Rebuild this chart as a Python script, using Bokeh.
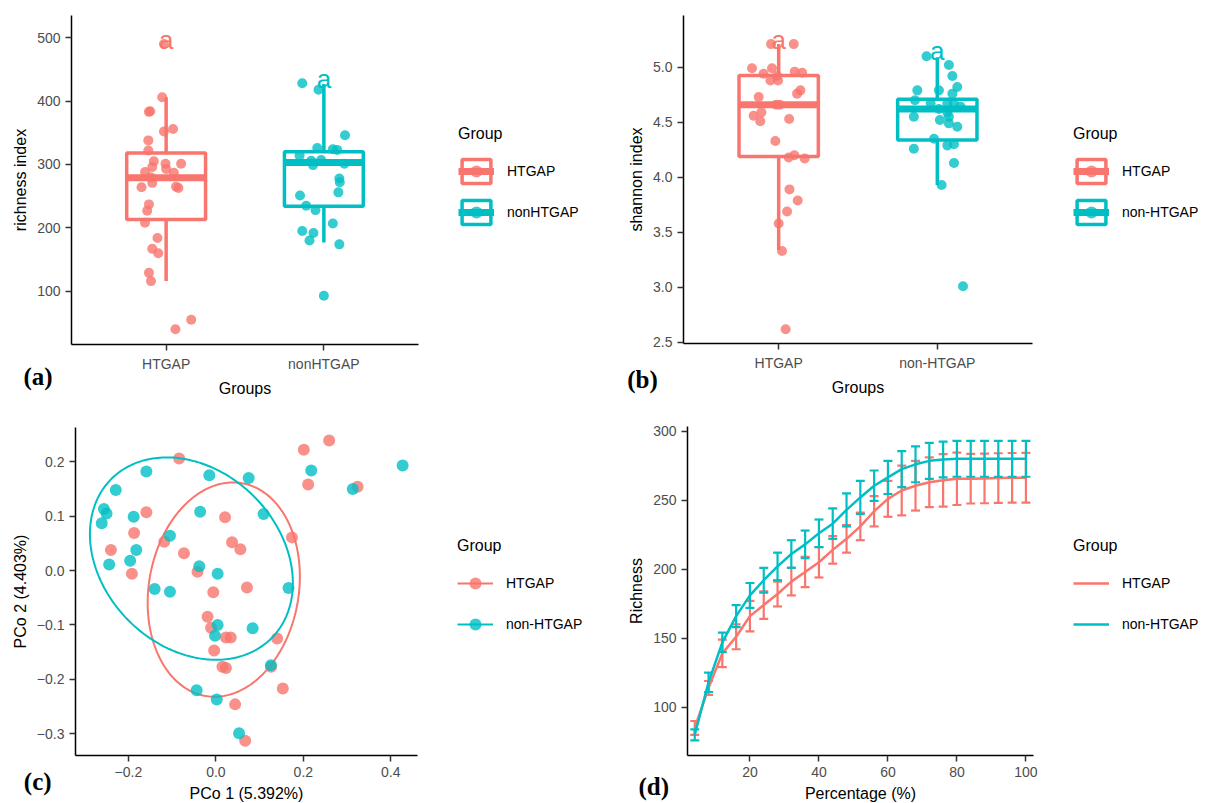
import numpy as np
from bokeh.plotting import figure
from bokeh.layouts import column, row
from bokeh.models import ColumnDataSource, FixedTicker, Legend, LegendItem, Label, Range1d
from bokeh.embed import file_html
from bokeh.resources import INLINE
from bokeh.core.properties import value

RED = "#F8766D"
TEAL = "#00BFC4"
FONT = "Liberation Sans"
SERIF = "Liberation Serif"

# ---------------- Panel (a): richness index ----------------
a_groups = ["HTGAP", "nonHTGAP"]
a_q1 = [213, 234]
a_median = [279, 303]
a_q3 = [318, 320]
a_whisker_lo = [116, 177]
a_whisker_hi = [406, 427]
a_letters = ["a", "a"]
a_letter_y = [497, 435]
a_ht_jitter = [-0.014, -0.025, -0.109, -0.101, -0.014, 0.044, -0.113, -0.113, -0.078, -0.004,
               0.095, -0.088, 0.0, -0.134, 0.049, -0.099, -0.088, -0.156, 0.063, 0.078,
               -0.109, -0.120, -0.134, -0.055, -0.088, -0.050, -0.109, -0.096, 0.059, 0.159]
a_ht_vals = [490, 406, 383, 384, 352, 356, 338, 322, 305, 301,
             301, 296, 293, 288, 287, 280, 271, 264, 265, 263,
             237, 227, 208, 184, 167, 160, 129, 116, 40, 55]
a_non_jitter = [-0.137, -0.034, 0.134, -0.042, 0.057, 0.084, -0.154, -0.080, -0.017, -0.069,
                0.130, 0.098, 0.101, 0.092, -0.151, -0.112, -0.053, 0.057, -0.137, -0.066,
                -0.091, 0.098, 0.0]
a_non_vals = [428, 418, 346, 326, 324, 323, 314, 306, 307, 299,
              301, 278, 272, 256, 251, 235, 228, 207, 195, 192,
              180, 174, 93]
a_yticks = [100, 200, 300, 400, 500]

# ---------------- Panel (b): shannon index ----------------
b_groups = ["HTGAP", "non-HTGAP"]
b_q1 = [4.19, 4.34]
b_median = [4.66, 4.62]
b_q3 = [4.925, 4.71]
b_whisker_lo = [3.34, 3.93]
b_whisker_hi = [5.21, 5.09]
b_letters = ["a", "a"]
b_letter_y = [5.25, 5.145]
b_ht_jitter = [-0.048, 0.095, -0.168, -0.042, -0.095, -0.010, 0.101, 0.148, -0.052, -0.004,
               0.116, 0.137, -0.126, -0.109, -0.158, -0.116, -0.016, 0.006, 0.066, -0.021,
               0.063, 0.099, 0.164, 0.068, 0.120, 0.053, 0.0, 0.021, 0.044]
b_ht_vals = [5.21, 5.21, 4.99, 4.99, 4.94, 4.92, 4.96, 4.95, 4.88, 4.88,
             4.76, 4.79, 4.73, 4.59, 4.56, 4.51, 4.66, 4.66, 4.53, 4.33,
             4.18, 4.20, 4.17, 3.89, 3.79, 3.69, 3.58, 3.33, 2.62]
b_non_jitter = [-0.068, 0.073, 0.095, 0.126, -0.126, 0.010, 0.095, -0.141, -0.042, 0.063,
                0.105, 0.147, 0.010, 0.063, -0.148, 0.073, 0.016, 0.073, 0.126, -0.021,
                0.063, 0.105, -0.148, 0.105, 0.027, 0.162]
b_non_vals = [5.10, 5.02, 4.92, 4.82, 4.79, 4.79, 4.76, 4.70, 4.67, 4.67,
              4.67, 4.64, 4.62, 4.59, 4.55, 4.55, 4.52, 4.49, 4.46, 4.35,
              4.29, 4.30, 4.26, 4.13, 3.93, 3.01]
b_yticks = [2.5, 3.0, 3.5, 4.0, 4.5, 5.0]
b_ytick_labels = ["2.5", "3.0", "3.5", "4.0", "4.5", "5.0"]

# ---------------- Panel (c): PCoA ----------------
c_ht_x = [-0.084, 0.201, 0.211, -0.159, 0.021, -0.187, -0.118, 0.037, 0.056, 0.174,
          -0.240, -0.073, -0.192, -0.042, 0.071, -0.006, -0.019, -0.011, 0.023, 0.034,
          0.140, -0.004, 0.015, 0.023, 0.126, 0.153, 0.044, 0.067, 0.259, 0.324]
c_ht_y = [0.206, 0.222, 0.158, 0.107, 0.098, 0.069, 0.053, 0.052, 0.039, 0.061,
          0.038, 0.032, -0.006, -0.002, -0.031, -0.040, -0.085, -0.105, -0.123, -0.123,
          -0.125, -0.147, -0.177, -0.179, -0.177, -0.217, -0.246, -0.313, 0.239, 0.154]
c_non_x = [-0.159, -0.015, 0.075, -0.229, 0.218, -0.256, -0.250, -0.261, -0.188, -0.036,
           0.109, -0.105, -0.182, -0.196, -0.244, -0.038, 0.004, -0.140, -0.105, 0.166,
           0.004, -0.002, 0.084, 0.126, -0.044, 0.002, 0.053, 0.427, 0.313]
c_non_y = [0.182, 0.175, 0.170, 0.148, 0.184, 0.113, 0.105, 0.087, 0.099, 0.108,
           0.104, 0.064, 0.038, 0.018, 0.011, 0.008, -0.006, -0.034, -0.039, -0.032,
           -0.100, -0.120, -0.106, -0.174, -0.220, -0.237, -0.299, 0.193, 0.150]
# 95% ellipses: centre, half-extents and phase (HTGAP, non-HTGAP)
c_ell_cx = [0.018, -0.056]
c_ell_cy = [-0.035, 0.022]
c_ell_rx = [0.174, 0.232]
c_ell_ry = [0.197, 0.186]
c_ell_phase = [83.0, 104.0]
c_groups = ["HTGAP", "non-HTGAP"]
c_xticks = [-0.2, 0.0, 0.2, 0.4]
c_xtick_labels = ["\u22120.2", "0.0", "0.2", "0.4"]
c_yticks = [-0.3, -0.2, -0.1, 0.0, 0.1, 0.2]
c_ytick_labels = ["\u22120.3", "\u22120.2", "\u22120.1", "0.0", "0.1", "0.2"]

# ---------------- Panel (d): rarefaction ----------------
d_pct = [4, 8, 12, 16, 20, 24, 28, 32, 36, 40, 44, 48, 52, 56, 60, 64, 68, 72, 76, 80, 84, 88, 92, 96, 100]
d_ht_mean = [85, 114, 139, 151, 166, 174, 182, 191, 198, 205, 214, 222, 231, 242, 251, 257, 260.5, 263,
             264.4, 265.5, 265.6, 265.8, 266, 266.2, 266.3]
d_ht_err = [5, 5, 10, 9, 11, 10, 9, 10, 11, 11, 10, 10, 10, 11, 13, 18, 18, 18, 19, 19, 18, 18, 18, 18, 18]
d_non_mean = [80, 118, 147, 166, 181, 192, 202, 211, 218, 226, 233, 243, 252, 260.5, 266.5, 272.5, 276,
              278.5, 279.5, 280, 280, 280, 280, 280, 280]
d_non_err = [4, 7, 7, 8, 9, 9, 10, 10, 10, 10, 11, 12, 12, 11, 12, 13, 13, 13, 13, 13, 13, 13, 13, 13, 13]
d_groups = ["HTGAP", "non-HTGAP"]
d_xticks = [20, 40, 60, 80, 100]
d_yticks = [100, 150, 200, 250, 300]

COLORS = [RED, TEAL]
BOX_W = 0.5
CAP = 1.3
W, H = 604, 401


def make_fig(left, top, fw, fh, xr, yr):
    """Panel whose plotting area (axes box) sits at left/top with size fw x fh;
    the canvas around it is kept inside the frame so legends and tags are not clipped."""
    kx = fw / (xr[1] - xr[0])
    ky = fh / (yr[1] - yr[0])
    x0 = xr[0] - left / kx
    x1 = xr[1] + (W - left - fw) / kx
    y0 = yr[0] - (H - top - fh) / ky
    y1 = yr[1] + top / ky
    p = figure(width=W, height=H, x_range=Range1d(x0, x1), y_range=Range1d(y0, y1),
               min_border=0, output_backend="svg", toolbar_location=None, tools="")
    p.grid.visible = False
    p.outline_line_color = None
    p.background_fill_color = "white"
    p.border_fill_color = "white"
    p.xaxis.fixed_location = yr[0]
    p.xaxis.bounds = (xr[0], xr[1])
    p.yaxis.fixed_location = xr[0]
    p.yaxis.bounds = (yr[0], yr[1])
    for ax in (p.xaxis[0], p.yaxis[0]):
        ax.axis_line_color = "black"
        ax.axis_line_width = 1.5
        ax.major_tick_line_color = "#333333"
        ax.major_tick_line_width = 1.5
        ax.major_tick_out = 6
        ax.major_tick_in = 0
        ax.minor_tick_line_color = None
        ax.major_label_text_font = FONT
        ax.major_label_text_font_size = "14px"
        ax.major_label_text_color = "#4D4D4D"
        ax.major_label_standoff = 5
        ax.axis_label_text_font = FONT
        ax.axis_label_text_font_size = "16px"
        ax.axis_label_text_font_style = "normal"
        ax.axis_label_text_color = "black"
        ax.axis_label_standoff = 5
    return p


def set_ticks(p, xticks, xlabels, yticks, ylabels, xtitle, ytitle):
    p.xaxis.ticker = FixedTicker(ticks=xticks)
    p.yaxis.ticker = FixedTicker(ticks=yticks)
    p.xaxis.major_label_overrides = dict(zip(xticks, xlabels))
    p.yaxis.major_label_overrides = dict(zip(yticks, ylabels))
    p.xaxis.axis_label = xtitle
    p.yaxis.axis_label = ytitle


def add_legend(p, items, x, y):
    lg = Legend(items=items, title="Group", location=(x, y), orientation="vertical",
                glyph_width=36, glyph_height=30, label_height=30, spacing=11,
                label_standoff=13, title_standoff=13, padding=0, margin=0,
                border_line_color=None, background_fill_alpha=0,
                label_text_font=FONT, label_text_font_size="14px", label_text_color="black",
                title_text_font=FONT, title_text_font_size="16px",
                title_text_font_style="normal", title_text_color="black")
    p.add_layout(lg)


def add_tag(p, text, x, y):
    p.add_layout(Label(x=x, y=y, x_units="screen", y_units="screen", text=text,
                       text_font=SERIF, text_font_style="bold", text_font_size="25px",
                       text_baseline="alphabetic", text_align="left", text_color="black"))


def box_panel(p, groups, q1, med, q3, lo, hi, jitters, vals, letters, letter_y):
    items = []
    for i, g in enumerate(groups):
        pos = i + 1
        col = COLORS[i]
        src = ColumnDataSource(dict(x=[pos], q1=[q1[i]], med=[med[i]], q3=[q3[i]],
                                    lo=[lo[i]], hi=[hi[i]],
                                    x0=[pos - BOX_W / 2], x1=[pos + BOX_W / 2]))
        p.segment(x0="x", y0="q3", x1="x", y1="hi", source=src, line_color=col, line_width=3.5)
        p.segment(x0="x", y0="lo", x1="x", y1="q1", source=src, line_color=col, line_width=3.5)
        box = p.vbar(x="x", width=BOX_W, top="q3", bottom="q1", source=src,
                     fill_color="white", line_color=col, line_width=3.5)
        mr = p.segment(x0="x0", y0="med", x1="x1", y1="med", source=src, line_color=col, line_width=7)
        pts = p.scatter(x=[pos + j for j in jitters[i]], y=vals[i], size=10,
                        fill_color=col, fill_alpha=0.8, line_color=None)
        items.append(LegendItem(label=g, renderers=[box, mr, pts]))
    p.text(x=[1, 2], y=letter_y, text=letters, text_color=COLORS, text_font=value(FONT),
           text_font_size="26px", text_align="center", text_baseline="alphabetic")
    return items


# ---- (a)
pa = make_fig(71, 15, 347, 329, (0.4, 2.6), (16, 535))
set_ticks(pa, [1, 2], a_groups, a_yticks, [str(v) for v in a_yticks], "Groups", "richness index")
items_a = box_panel(pa, a_groups, a_q1, a_median, a_q3, a_whisker_lo, a_whisker_hi,
                    [a_ht_jitter, a_non_jitter], [a_ht_vals, a_non_vals], a_letters, a_letter_y)
add_legend(pa, items_a, 458, 174)
add_tag(pa, "(a)", 23, 25.5)

# ---- (b)
pb = make_fig(79, 15, 349, 328, (0.4, 2.6), (2.49, 5.47))
set_ticks(pb, [1, 2], b_groups, b_yticks, b_ytick_labels, "Groups", "shannon index")
items_b = box_panel(pb, b_groups, b_q1, b_median, b_q3, b_whisker_lo, b_whisker_hi,
                    [b_ht_jitter, b_non_jitter], [b_ht_vals, b_non_vals], b_letters, b_letter_y)
add_legend(pb, items_b, 469, 174)
add_tag(pb, "(b)", 22.7, 22.5)

# ---- (c)
pc = make_fig(75, 26, 342, 328, (-0.321, 0.461), (-0.34, 0.263))
set_ticks(pc, c_xticks, c_xtick_labels, c_yticks, c_ytick_labels, "PCo 1 (5.392%)", "PCo 2 (4.403%)")
t = np.linspace(0, 2 * np.pi, 241)
items_c = []
for i, (gx, gy) in enumerate([(c_ht_x, c_ht_y), (c_non_x, c_non_y)]):
    col = COLORS[i]
    ex = c_ell_cx[i] + c_ell_rx[i] * np.cos(t)
    ey = c_ell_cy[i] + c_ell_ry[i] * np.cos(t - np.radians(c_ell_phase[i]))
    lr = pc.line(ex, ey, line_color=col, line_width=2)
    sr = pc.scatter(gx, gy, size=12, fill_color=col, fill_alpha=0.8, line_color=None)
    items_c.append(LegendItem(label=c_groups[i], renderers=[lr, sr]))
add_legend(pc, items_c, 457, 163)
add_tag(pc, "(c)", 23.3, 21.5)

# ---- (d)
pd_ = make_fig(83, 25, 346, 329, (1.9, 102.2), (65, 303.4))
set_ticks(pd_, d_xticks, [str(v) for v in d_xticks], d_yticks, [str(v) for v in d_yticks],
          "Percentage (%)", "Richness")
items_d = []
for i, (m, e) in enumerate([(d_ht_mean, d_ht_err), (d_non_mean, d_non_err)]):
    col = COLORS[i]
    lo = [a - b for a, b in zip(m, e)]
    hi = [a + b for a, b in zip(m, e)]
    src = ColumnDataSource(dict(x=d_pct, lo=lo, hi=hi, m=m,
                                xl=[v - CAP for v in d_pct], xr=[v + CAP for v in d_pct]))
    pd_.segment(x0="x", y0="lo", x1="x", y1="hi", source=src, line_color=col, line_width=2.2)
    pd_.segment(x0="xl", y0="hi", x1="xr", y1="hi", source=src, line_color=col, line_width=2.2)
    pd_.segment(x0="xl", y0="lo", x1="xr", y1="lo", source=src, line_color=col, line_width=2.2)
    lr = pd_.line(x="x", y="m", source=src, line_color=col, line_width=2.5)
    items_d.append(LegendItem(label=d_groups[i], renderers=[lr]))
add_legend(pd_, items_d, 469, 163)
add_tag(pd_, "(d)", 34, 16.5)

layout = column(row(pa, pb, spacing=0), row(pc, pd_, spacing=0), spacing=0)
open("out.html", "w").write(file_html(layout, INLINE, title="Alpha and beta diversity"))
